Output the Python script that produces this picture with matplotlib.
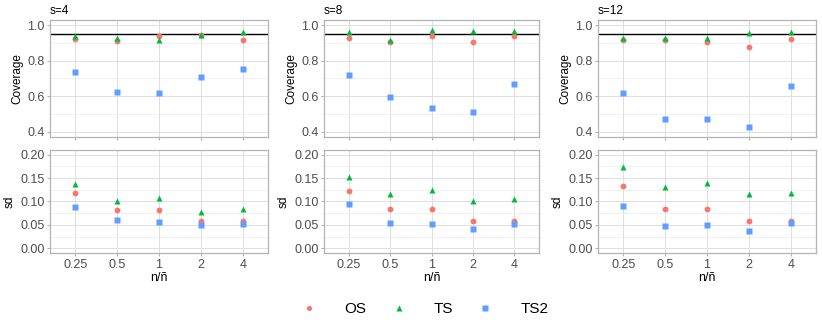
import numpy as np
import matplotlib
matplotlib.use('Agg')
import matplotlib.pyplot as plt
from matplotlib.lines import Line2D

plt.rcParams['font.family'] = ['Liberation Sans', 'DejaVu Sans']

ratios = ['0.25', '0.5', '1', '2', '4']
s_values = [4, 8, 12]
methods = ['OS', 'TS', 'TS2']
colors = {'OS': '#F8766D', 'TS': '#00BA38', 'TS2': '#619CFF'}
markers = {'OS': 'o', 'TS': '^', 'TS2': 's'}
msizes = {'OS': 4.2, 'TS': 4.8, 'TS2': 4.2}

# coverage per s, per method
cov_s4 = {'OS': [0.922, 0.911, 0.940, 0.948, 0.915],
          'TS': [0.937, 0.926, 0.918, 0.944, 0.961],
          'TS2': [0.737, 0.622, 0.617, 0.707, 0.756]}
cov_s8 = {'OS': [0.926, 0.906, 0.941, 0.906, 0.941],
          'TS': [0.961, 0.919, 0.974, 0.969, 0.967],
          'TS2': [0.722, 0.598, 0.533, 0.513, 0.667]}
cov_s12 = {'OS': [0.915, 0.915, 0.904, 0.876, 0.924],
           'TS': [0.931, 0.931, 0.931, 0.959, 0.963],
           'TS2': [0.617, 0.469, 0.469, 0.424, 0.657]}

# sd per s, per method
sd_s4 = {'OS': [0.118, 0.082, 0.082, 0.058, 0.059],
         'TS': [0.138, 0.101, 0.108, 0.078, 0.084],
         'TS2': [0.088, 0.060, 0.057, 0.050, 0.053]}
sd_s8 = {'OS': [0.123, 0.083, 0.084, 0.059, 0.058],
         'TS': [0.152, 0.117, 0.124, 0.101, 0.106],
         'TS2': [0.094, 0.055, 0.052, 0.041, 0.051]}
sd_s12 = {'OS': [0.133, 0.085, 0.084, 0.059, 0.059],
          'TS': [0.174, 0.131, 0.139, 0.117, 0.118],
          'TS2': [0.091, 0.048, 0.050, 0.036, 0.055]}

coverage = [cov_s4, cov_s8, cov_s12]
sds = [sd_s4, sd_s8, sd_s12]
nominal = 0.95

W, H = 822, 327
fig = plt.figure(figsize=(W / 100, H / 100), dpi=100)

cols = [(50, 268), (324, 539), (598, 816)]
top_row = (20, 137)
bot_row = (150, 253)

def px_axes(xr, yr):
    return fig.add_axes([xr[0] / W, 1 - yr[1] / H, (xr[1] - xr[0]) / W, (yr[1] - yr[0]) / H])

def style(ax, major, minor, ylim):
    ax.set_xlim(-0.6, len(ratios) - 0.4)
    ax.set_ylim(*ylim)
    ax.set_yticks(major)
    ax.set_yticks(minor, minor=True)
    ax.set_xticks(range(len(ratios)))
    ax.grid(True, which='major', color='#dedede', lw=0.7)
    ax.grid(True, which='minor', axis='y', color='#ececec', lw=0.5)
    ax.set_axisbelow(True)
    for sp in ax.spines.values():
        sp.set_color('#b3b3b3')
        sp.set_linewidth(0.9)
    ax.tick_params(which='major', length=2.5, color='#b3b3b3', labelsize=9,
                   labelcolor='#4d4d4d', pad=1.5)
    ax.tick_params(which='minor', length=0)

x = np.arange(len(ratios))
for i, s in enumerate(s_values):
    ax1 = px_axes(cols[i], top_row)
    style(ax1, [0.4, 0.6, 0.8, 1.0], [0.5, 0.7, 0.9], (0.37, 1.03))
    ax1.set_yticklabels(['0.4', '0.6', '0.8', '1.0'])
    ax1.set_xticklabels([])
    ax1.axhline(nominal, color='black', lw=1.0, zorder=2)
    for m in methods:
        ax1.plot(x, coverage[i][m], ls='none', marker=markers[m], ms=msizes[m],
                 color=colors[m], mec='none', zorder=3)
    ax1.set_ylabel('Coverage', fontsize=8.5, labelpad=3)
    ax1.set_title('s=%d' % s, loc='left', fontsize=8.5, pad=4)

    ax2 = px_axes(cols[i], bot_row)
    style(ax2, [0.0, 0.05, 0.1, 0.15, 0.2], [0.025, 0.075, 0.125, 0.175], (-0.01, 0.21))
    ax2.set_yticklabels(['0.00', '0.05', '0.10', '0.15', '0.20'])
    ax2.set_xticklabels(ratios)
    for m in methods:
        ax2.plot(x, sds[i][m], ls='none', marker=markers[m], ms=msizes[m],
                 color=colors[m], mec='none', zorder=3)
    ax2.set_ylabel('sd', fontsize=8.5, labelpad=3)
    ax2.set_xlabel('n/ñ', fontsize=9, labelpad=1)

handles = [Line2D([], [], ls='none', marker=markers[m], ms=msizes[m] - 0.5,
                  color=colors[m], mec='none') for m in methods]
fig.legend(handles, methods, loc='center', bbox_to_anchor=(425 / W, 1 - 309 / H),
           ncol=3, frameon=False, fontsize=11, handlelength=1.0,
           handletextpad=1.8, columnspacing=1.6)

fig.savefig('out.png', dpi=100, facecolor='white')
